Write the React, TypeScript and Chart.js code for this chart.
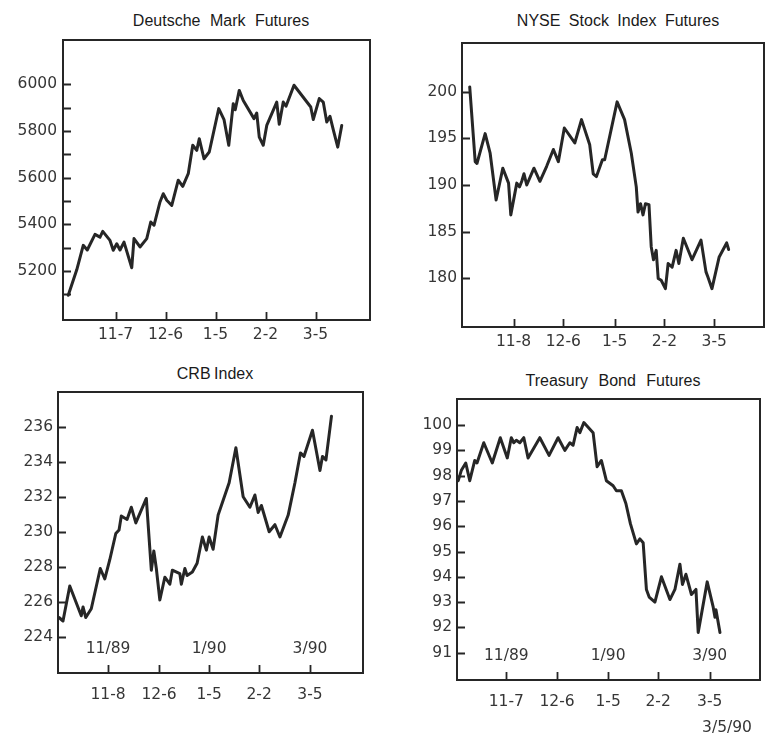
import React, { useEffect, useRef } from "react";
import { Chart, registerables } from "chart.js";

Chart.register(...registerables);

// ---------- Deutsche Mark Futures ----------
const dmDays = [2.1, 5.5, 8.1, 9.7, 12.8, 14.8, 15.9, 18.8, 20.1, 21.5, 22.8, 24.4, 27.5, 28.4, 30.8, 33.5, 35.1, 36.4, 38.8, 40.1, 41.5, 43.5, 46.1, 47.9, 50.1, 51.9, 53.5, 54.5, 56.4, 58.5, 62.3, 64.4, 66.3, 68.1, 68.9, 70.5, 72.1, 76.4, 77.5, 78.5, 80.1, 81.5, 85.5, 86.5, 88.1, 89.2, 92.4, 99.1, 100.1, 102.5, 104.1, 105.5, 106.8, 108.1, 109.9, 111.5];
const dmValues = [5096, 5205, 5310, 5290, 5357, 5345, 5370, 5331, 5289, 5317, 5290, 5324, 5214, 5339, 5303, 5339, 5410, 5396, 5496, 5531, 5503, 5481, 5589, 5563, 5617, 5739, 5717, 5767, 5681, 5710, 5896, 5849, 5739, 5917, 5891, 5974, 5931, 5853, 5877, 5774, 5739, 5824, 5924, 5829, 5924, 5906, 5996, 5903, 5849, 5939, 5924, 5839, 5863, 5806, 5731, 5824];
const dmXTicks = [21, 41, 61, 81, 101];
const dmXLabels = ["11-7", "12-6", "1-5", "2-2", "3-5"];
const dmYTicks = [5100, 5200, 5300, 5400, 5500, 5600, 5700, 5800, 5900, 6000];
const dmYLabels = [5200, 5400, 5600, 5800, 6000];

// ---------- NYSE Stock Index Futures ----------
const nyDays = [3.1, 5.3, 6.0, 9.3, 11.3, 13.7, 16.4, 18.7, 19.6, 22.0, 23.1, 24.0, 24.9, 26.0, 28.9, 31.3, 34.0, 36.7, 38.7, 41.1, 45.3, 48.0, 51.3, 52.7, 54.0, 56.4, 57.3, 62.3, 65.3, 68.0, 70.0, 70.7, 71.7, 72.7, 73.7, 75.1, 76.0, 76.9, 78.0, 78.8, 80.0, 81.7, 82.8, 84.4, 86.0, 87.1, 88.9, 92.4, 96.0, 98.0, 98.7, 100.4, 103.3, 106.3, 107.1];
const nyValues = [200.5, 192.5, 192.3, 195.5, 193.4, 188.4, 191.8, 190.2, 186.8, 190.2, 189.8, 190.4, 191.2, 190.0, 191.8, 190.4, 192.0, 193.8, 192.5, 196.1, 194.5, 197.0, 194.3, 191.2, 190.9, 192.7, 192.7, 198.9, 197.0, 193.4, 189.8, 187.1, 188.0, 186.8, 188.0, 187.9, 183.4, 182.0, 183.0, 180.0, 179.8, 178.9, 181.6, 181.2, 183.0, 181.6, 184.3, 182.0, 184.1, 180.7, 180.2, 178.9, 182.3, 183.8, 183.1];
const nyXTicks = [20.7, 40.7, 61.3, 81.3, 101.3];
const nyXLabels = ["11-8", "12-6", "1-5", "2-2", "3-5"];
const nyYTicks = [180, 185, 190, 195, 200];
const nyYLabels = [180, 185, 190, 195, 200];

// ---------- CRB Index ----------
const crbDays = [0.4, 2.0, 4.7, 9.3, 10.0, 11.1, 13.3, 16.9, 18.7, 20.7, 23.1, 24.4, 25.3, 27.6, 29.3, 31.1, 35.3, 37.3, 38.3, 39.3, 40.7, 42.7, 44.7, 45.7, 48.7, 49.3, 50.7, 51.6, 53.7, 55.6, 57.7, 59.3, 60.4, 62.0, 64.0, 68.4, 71.1, 74.0, 76.7, 78.7, 80.0, 81.3, 84.4, 86.7, 88.7, 92.0, 94.7, 96.9, 98.3, 101.7, 104.7, 105.7, 107.1, 109.3];
const crbValues = [225.1, 224.9, 226.9, 225.2, 225.7, 225.1, 225.6, 227.9, 227.3, 228.4, 229.9, 230.1, 230.9, 230.7, 231.4, 230.5, 231.9, 227.8, 228.9, 227.9, 226.1, 227.4, 227.0, 227.8, 227.6, 227.0, 227.9, 227.5, 227.7, 228.2, 229.7, 228.95, 229.7, 229.0, 230.95, 232.8, 234.8, 232.0, 231.4, 232.1, 231.1, 231.5, 230.0, 230.4, 229.7, 230.95, 232.8, 234.5, 234.3, 235.8, 233.5, 234.3, 234.1, 236.6];
const crbXTicks = [20, 40.4, 60.4, 80.4, 100.7];
const crbXLabels = ["11-8", "12-6", "1-5", "2-2", "3-5"];
const crbYTicks = [224, 226, 228, 230, 232, 234, 236];
const crbYLabels = [224, 226, 228, 230, 232, 234, 236];
const crbMonths = ["11/89", "1/90", "3/90"];
const crbMonthAt = [20, 60.4, 100.7];

// ---------- Treasury Bond Futures ----------
const tbDays = [0.5, 1.7, 3.5, 5.1, 7.1, 8.0, 10.7, 14.1, 17.3, 20.1, 21.7, 22.7, 23.7, 25.1, 26.7, 28.4, 33.1, 36.8, 40.4, 43.1, 45.1, 46.4, 48.0, 49.1, 50.7, 54.4, 56.0, 57.7, 59.7, 62.4, 63.7, 65.7, 67.5, 69.3, 71.7, 73.1, 74.4, 75.7, 76.8, 79.1, 81.7, 85.1, 87.1, 89.1, 90.1, 91.5, 93.7, 95.5, 96.4, 100.0, 102.4, 103.1, 103.5, 105.1];
const tbValues = [97.8, 98.2, 98.5, 97.8, 98.6, 98.5, 99.3, 98.5, 99.5, 98.7, 99.5, 99.3, 99.4, 99.3, 99.5, 98.7, 99.5, 98.8, 99.5, 99.0, 99.3, 99.2, 99.9, 99.7, 100.1, 99.7, 98.35, 98.6, 97.8, 97.6, 97.4, 97.4, 96.9, 96.1, 95.3, 95.5, 95.35, 93.5, 93.2, 93.0, 94.0, 93.1, 93.5, 94.5, 93.7, 94.1, 93.3, 93.5, 91.8, 93.8, 92.8, 92.4, 92.7, 91.8];
const tbXTicks = [19.7, 40, 60.4, 80.4, 101];
const tbXLabels = ["11-7", "12-6", "1-5", "2-2", "3-5"];
const tbYTicks = [91, 92, 93, 94, 95, 96, 97, 98, 99, 100];
const tbYLabels = [91, 92, 93, 94, 95, 96, 97, 98, 99, 100];
const tbMonths = ["11/89", "1/90", "3/90"];
const tbMonthAt = [19.7, 60.4, 101];

const TICK_FONT = "'DejaVu Sans', sans-serif";
const TICK_SIZE = 15.5;
const INK = "#262626";
const TEXT = "#363636";

type PanelDef = {
  xs: number[];
  ys: number[];
  xTicks: number[];
  xLabels: string[];
  yTicks: number[];
  yLabels: number[];
  xMin: number;
  xMax: number;
  yMin: number;
  yMax: number;
  months?: string[];
  monthAt?: number[];
  box: { left: number; top: number; width: number; height: number };
  area: { left: number; top: number; right: number; bottom: number };
  xPad: number;
  yPad: number;
};

const framePlugin = {
  id: "frame",
  afterDraw(chart: any, _args: any, opts: any) {
    const { ctx, chartArea: a, scales } = chart;
    ctx.save();
    ctx.strokeStyle = INK;
    ctx.lineWidth = 2;
    ctx.strokeRect(a.left, a.top, a.right - a.left, a.bottom - a.top);
    ctx.lineWidth = 1.8;
    ctx.beginPath();
    for (const t of scales.y.ticks) {
      const py = Math.round(scales.y.getPixelForValue(t.value)) + 0.5;
      ctx.moveTo(a.left, py);
      ctx.lineTo(a.left + 8, py);
    }
    for (const t of scales.x.ticks) {
      const px = Math.round(scales.x.getPixelForValue(t.value)) + 0.5;
      ctx.moveTo(px, a.bottom);
      ctx.lineTo(px, a.bottom - 8);
    }
    ctx.stroke();
    if (opts && opts.months) {
      ctx.fillStyle = TEXT;
      ctx.font = `${TICK_SIZE}px ${TICK_FONT}`;
      ctx.textAlign = "center";
      ctx.textBaseline = "middle";
      opts.months.forEach((m: string, i: number) => {
        const px = scales.x.getPixelForValue(opts.monthAt[i]);
        ctx.fillText(m, px, a.bottom - 24);
      });
    }
    ctx.restore();
  },
};

function PanelChart({ p }: { p: PanelDef }) {
  const ref = useRef<HTMLCanvasElement | null>(null);
  useEffect(() => {
    if (!ref.current) return;
    const yW = p.area.left;
    const xH = p.box.height - p.area.bottom;
    const chart = new Chart(ref.current, {
      type: "line",
      data: {
        datasets: [
          {
            data: p.xs.map((x, i) => ({ x, y: p.ys[i] })),
            borderColor: INK,
            borderWidth: 3,
            pointRadius: 0,
            tension: 0,
            borderJoinStyle: "round",
            borderCapStyle: "round",
            fill: false,
          },
        ],
      },
      options: {
        animation: false,
        responsive: false,
        maintainAspectRatio: false,
        events: [],
        layout: {
          padding: { left: 0, bottom: 0, top: p.area.top, right: p.box.width - p.area.right },
        },
        plugins: {
          legend: { display: false },
          tooltip: { enabled: false },
          title: { display: false },
          frame: { months: p.months, monthAt: p.monthAt },
        } as any,
        scales: {
          x: {
            type: "linear",
            min: p.xMin,
            max: p.xMax,
            grid: { display: false, drawTicks: false },
            border: { display: false },
            afterBuildTicks: (axis: any) => {
              axis.ticks = p.xTicks.map((v) => ({ value: v }));
            },
            afterFit: (axis: any) => {
              axis.height = xH;
              axis.paddingLeft = 0;
              axis.paddingRight = 0;
            },
            ticks: {
              autoSkip: false,
              maxRotation: 0,
              minRotation: 0,
              padding: p.xPad,
              color: TEXT,
              font: { family: TICK_FONT, size: TICK_SIZE },
              callback: (_v: any, i: number) => p.xLabels[i],
            },
          },
          y: {
            type: "linear",
            min: p.yMin,
            max: p.yMax,
            grid: { display: false, drawTicks: false },
            border: { display: false },
            afterBuildTicks: (axis: any) => {
              axis.ticks = p.yTicks.map((v) => ({ value: v }));
            },
            afterFit: (axis: any) => {
              axis.width = yW;
              axis.paddingTop = 0;
              axis.paddingBottom = 0;
            },
            ticks: {
              autoSkip: false,
              padding: p.yPad,
              color: TEXT,
              font: { family: TICK_FONT, size: TICK_SIZE },
              callback: (v: any) => (p.yLabels.includes(v) ? String(v) : ""),
            },
          },
        },
      },
      plugins: [framePlugin as any],
    });
    return () => chart.destroy();
  }, [p]);
  return (
    <canvas
      ref={ref}
      width={p.box.width}
      height={p.box.height}
      style={{ position: "absolute", left: p.box.left, top: p.box.top, width: p.box.width, height: p.box.height }}
    />
  );
}

const panels: PanelDef[] = [
  {
    xs: dmDays, ys: dmValues, xTicks: dmXTicks, xLabels: dmXLabels, yTicks: dmYTicks, yLabels: dmYLabels,
    xMin: 0, xMax: 122.8, yMin: 4990, yMax: 6190,
    box: { left: 0, top: 30, width: 380, height: 330 },
    area: { left: 63, top: 10, right: 370, bottom: 290 },
    xPad: 6, yPad: 6,
  },
  {
    xs: nyDays, ys: nyValues, xTicks: nyXTicks, xLabels: nyXLabels, yTicks: nyYTicks, yLabels: nyYLabels,
    xMin: 0, xMax: 121.3, yMin: 174.8, yMax: 205.2,
    box: { left: 380, top: 30, width: 386, height: 330 },
    area: { left: 82, top: 13, right: 384, bottom: 297 },
    xPad: 6, yPad: 5,
  },
  {
    xs: crbDays, ys: crbValues, xTicks: crbXTicks, xLabels: crbXLabels, yTicks: crbYTicks, yLabels: crbYLabels,
    xMin: 0, xMax: 121.9, yMin: 221.93, yMax: 237.98,
    months: crbMonths, monthAt: crbMonthAt,
    box: { left: 0, top: 360, width: 380, height: 378 },
    area: { left: 58, top: 32, right: 363, bottom: 313 },
    xPad: 13, yPad: 5,
  },
  {
    xs: tbDays, ys: tbValues, xTicks: tbXTicks, xLabels: tbXLabels, yTicks: tbYTicks, yLabels: tbYLabels,
    xMin: 0, xMax: 121.1, yMin: 89.92, yMax: 101.03,
    months: tbMonths, monthAt: tbMonthAt,
    box: { left: 380, top: 360, width: 386, height: 378 },
    area: { left: 77, top: 39, right: 380, bottom: 320 },
    xPad: 13, yPad: 5,
  },
];

const titles = [
  { text: "Deutsche Mark Futures", cx: 221, top: 12, ws: 5 },
  { text: "NYSE Stock Index Futures", cx: 618, top: 12, ws: 4 },
  { text: "CRB Index", cx: 215, top: 365, ws: -1 },
  { text: "Treasury Bond Futures", cx: 613, top: 372, ws: 6 },
];

export default function App() {
  return (
    <div style={{ position: "fixed", left: 0, top: 0, width: 766, height: 738, background: "#ffffff", overflow: "hidden" }}>
      {titles.map((t) => (
        <div
          key={t.text}
          style={{
            position: "absolute",
            left: t.cx - 150,
            width: 300,
            top: t.top,
            textAlign: "center",
            fontFamily: "'Liberation Sans', Arial, sans-serif",
            fontSize: 16,
            color: "#1a1a1a",
            wordSpacing: t.ws,
            whiteSpace: "nowrap",
          }}
        >
          {t.text}
        </div>
      ))}
      {panels.map((p, i) => (
        <PanelChart key={i} p={p} />
      ))}
      <div
        style={{
          position: "absolute",
          left: 697,
          width: 60,
          top: 718,
          textAlign: "center",
          fontFamily: TICK_FONT,
          fontSize: TICK_SIZE,
          color: TEXT,
        }}
      >
        3/5/90
      </div>
    </div>
  );
}
